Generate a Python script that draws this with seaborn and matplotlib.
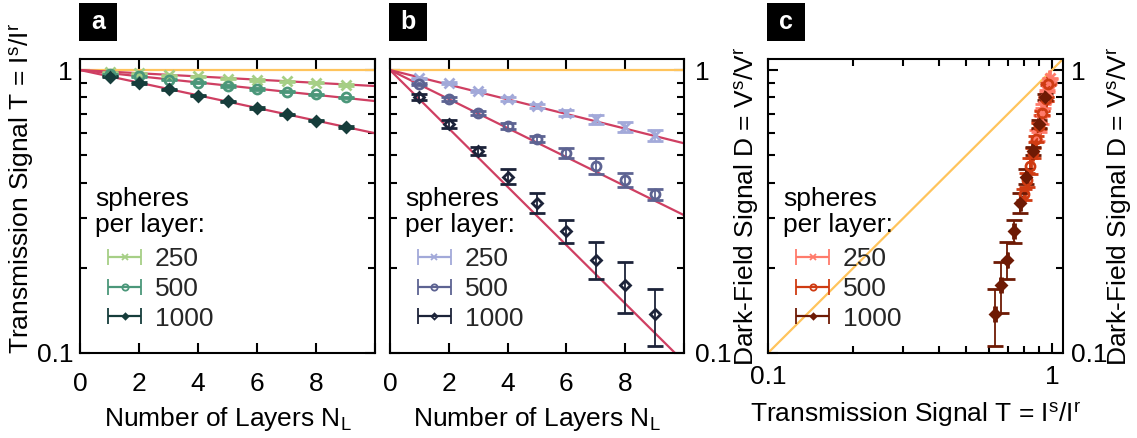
import numpy as np
import matplotlib
matplotlib.use("Agg")
import matplotlib.pyplot as plt
import seaborn as sns
from matplotlib.container import ErrorbarContainer
from matplotlib.legend_handler import HandlerErrorbar
from matplotlib.patches import Rectangle
from matplotlib.ticker import LogLocator, NullFormatter, FixedLocator, FixedFormatter

# ---------------- data ----------------
layers = [1, 2, 3, 4, 5, 6, 7, 8, 9]
spheres = ["250", "500", "1000"]

# transmission signal T (panel a)
T_250 = [0.984, 0.976, 0.958, 0.950, 0.932, 0.922, 0.914, 0.902, 0.885]
T_500 = [0.968, 0.950, 0.925, 0.902, 0.878, 0.857, 0.838, 0.820, 0.800]
T_1000 = [0.947, 0.900, 0.855, 0.812, 0.775, 0.735, 0.697, 0.662, 0.630]
T_err_250 = [0.004, 0.004, 0.004, 0.004, 0.004, 0.004, 0.004, 0.004, 0.004]
T_err_500 = [0.004, 0.004, 0.004, 0.004, 0.004, 0.004, 0.004, 0.004, 0.004]
T_err_1000 = [0.004, 0.004, 0.004, 0.004, 0.004, 0.004, 0.004, 0.004, 0.004]

# dark-field signal D (panel b)
D_250 = [0.935, 0.898, 0.845, 0.790, 0.748, 0.707, 0.671, 0.631, 0.589]
D_500 = [0.892, 0.792, 0.707, 0.634, 0.571, 0.510, 0.459, 0.409, 0.364]
D_1000 = [0.805, 0.644, 0.519, 0.420, 0.340, 0.270, 0.214, 0.174, 0.137]
D_err_250 = [0.006, 0.007, 0.008, 0.010, 0.012, 0.018, 0.024, 0.026, 0.026]
D_err_500 = [0.010, 0.012, 0.012, 0.015, 0.012, 0.020, 0.029, 0.023, 0.017]
D_err_1000 = [0.020, 0.021, 0.017, 0.026, 0.027, 0.025, 0.032, 0.036, 0.031]

# exponential fits: value at N = 0 and N = 10 (straight lines on log axis)
fit_N = [0, 10]
T_fit_end = [0.878, 0.777, 0.598]
D_fit_end = [0.551, 0.307, 0.093]
identity = [0.1, 1.1]

T_vals = [T_250, T_500, T_1000]
T_errs = [T_err_250, T_err_500, T_err_1000]
D_vals = [D_250, D_500, D_1000]
D_errs = [D_err_250, D_err_500, D_err_1000]

# ---------------- style ----------------
sns.set_theme(style="ticks")
plt.rcParams["font.family"] = ["Liberation Sans", "DejaVu Sans"]
plt.rcParams["mathtext.default"] = "regular"
plt.rcParams["axes.linewidth"] = 1.5
FS = 19

pal_a = ["#a6cf86", "#4b977a", "#163d3b"]
pal_b = ["#a2a9d9", "#5d6392", "#1c2339"]
pal_c = ["#ff7b6b", "#cf3b12", "#6e1a04"]
fit_color = "#cf3f62"
orange = "#ffc45c"
markers = ["x", "o", "D"]
msizes = [7, 6.5, 5]

W, H = 1137, 438
fig = plt.figure(figsize=(W / 100, H / 100), dpi=100)


def px_axes(l, r, t, b):
    return fig.add_axes([l / W, (H - b) / H, (r - l) / W, (b - t) / H])


ax_a = px_axes(80, 375, 59, 353)
ax_b = px_axes(390, 684, 59, 353)
ax_c = px_axes(768, 1063, 59, 353)


def style_axes(ax, side, logx=False, ypad=8):
    ax.set_yscale("log")
    ax.set_ylim(0.1, 1.094)
    ax.yaxis.set_major_locator(FixedLocator([0.1, 1]))
    ax.yaxis.set_major_formatter(FixedFormatter(["0.1", "1"]))
    ax.yaxis.set_minor_locator(LogLocator(base=10, subs=np.arange(2, 10)))
    ax.yaxis.set_minor_formatter(NullFormatter())
    if logx:
        ax.set_xscale("log")
        ax.set_xlim(0.1, 1.094)
        ax.xaxis.set_major_locator(FixedLocator([0.1, 1]))
        ax.xaxis.set_major_formatter(FixedFormatter(["0.1", "1"]))
        ax.xaxis.set_minor_locator(LogLocator(base=10, subs=np.arange(2, 10)))
        ax.xaxis.set_minor_formatter(NullFormatter())
    else:
        ax.set_xlim(0, 10)
        ax.xaxis.set_major_locator(FixedLocator([0, 2, 4, 6, 8, 10]))
        ax.xaxis.set_major_formatter(FixedFormatter(["0", "2", "4", "6", "8", ""]))
    ax.tick_params(which="both", direction="in", top=True, bottom=True,
                   left=True, right=True, width=1.5, colors="black",
                   labelsize=FS, labelcolor="black")
    ax.tick_params(which="major", length=7)
    ax.tick_params(which="minor", length=5)
    if side == "left":
        ax.tick_params(axis="y", labelleft=True, labelright=False, pad=5)
    else:
        ax.tick_params(axis="y", labelleft=False, labelright=True, pad=ypad)
    for s in ax.spines.values():
        s.set_color("black")
        s.set_linewidth(1.5)


def add_legend(ax, pal, fills):
    ax.text(0.051, 0.48, "spheres\nper layer:", transform=ax.transAxes,
            ha="left", va="center", fontsize=FS, linespacing=1.1, color="black")
    handles = []
    for i, lab in enumerate(spheres):
        h = ax.errorbar([np.nan], [np.nan], xerr=[[0.1], [0.1]], fmt=markers[i],
                        color=pal[i], ms=msizes[i] - 2,
                        mfc=("none" if i < 2 or not fills else pal[i]),
                        mew=1.3, elinewidth=1.6, capsize=6, capthick=1.6,
                        label=lab)
        handles.append(h)
    ax.legend(handles=handles, labels=spheres, loc="center left",
              bbox_to_anchor=(0.095, 0.218), frameon=False, fontsize=FS,
              handlelength=1.25, handletextpad=0.53, labelspacing=0.22,
              borderpad=0, borderaxespad=0,
              handler_map={ErrorbarContainer: HandlerErrorbar(xerr_size=0.63)})


# ---------------- panel a ----------------
style_axes(ax_a, "left")
sns.lineplot(x=fit_N, y=[1, 1], color=orange, lw=1.6, ax=ax_a, zorder=2)
for i in range(3):
    sns.lineplot(x=fit_N, y=[1, T_fit_end[i]], color=fit_color, lw=1.6, ax=ax_a, zorder=2)
for i in range(3):
    ax_a.errorbar(layers, T_vals[i], yerr=T_errs[i], fmt=markers[i], color=pal_a[i],
                  ms=msizes[i], mew=2, mfc=("none" if i == 1 else pal_a[i]),
                  elinewidth=1.3, capsize=6, capthick=1.3, zorder=3)
ax_a.set_xlabel("Number of Layers N$_{L}$", fontsize=FS, color="black", labelpad=6)
ax_a.set_ylabel("Transmission Signal T = I$^{s}$/I$^{r}$", fontsize=FS, color="black")
ax_a.yaxis.set_label_coords(-0.145, 0.56)
ax_a.tick_params(axis="x", pad=14)
add_legend(ax_a, pal_a, True)

# ---------------- panel b ----------------
style_axes(ax_b, "right")
sns.lineplot(x=fit_N, y=[1, 1], color=orange, lw=1.6, ax=ax_b, zorder=2)
for i in range(3):
    sns.lineplot(x=fit_N, y=[1, D_fit_end[i]], color=fit_color, lw=1.6, ax=ax_b, zorder=2)
for i in range(3):
    ax_b.errorbar(layers, D_vals[i], yerr=D_errs[i], fmt=markers[i], color=pal_b[i],
                  ms=msizes[i], mew=2, mfc="none",
                  elinewidth=1.3, capsize=6, capthick=1.3, zorder=3)
ax_b.set_xlabel("Number of Layers N$_{L}$", fontsize=FS, color="black", labelpad=6)
ax_b.yaxis.set_label_position("right")
ax_b.set_ylabel("Dark-Field Signal D = V$^{s}$/V$^{r}$", fontsize=FS, color="black",
                rotation=90)
ax_b.yaxis.set_label_coords(1.167, 0.5)
ax_b.tick_params(axis="x", pad=14)
add_legend(ax_b, pal_b, False)

# ---------------- panel c ----------------
style_axes(ax_c, "right", logx=True, ypad=6)
sns.lineplot(x=identity, y=identity, color=orange, lw=1.6, ax=ax_c, zorder=2)
for i in range(3):
    ax_c.errorbar(T_vals[i], D_vals[i], xerr=T_errs[i], yerr=D_errs[i], fmt=markers[i],
                  color=pal_c[i], ms=msizes[i], mew=2,
                  mfc=("none" if i == 1 else pal_c[i]),
                  elinewidth=1.3, capsize=6, capthick=1.3, zorder=3)
ax_c.set_xlabel("Transmission Signal T = I$^{s}$/I$^{r}$", fontsize=FS, color="black",
                labelpad=8)
ax_c.yaxis.set_label_position("right")
ax_c.set_ylabel("Dark-Field Signal D = V$^{s}$/V$^{r}$", fontsize=FS, color="black",
                rotation=90)
ax_c.yaxis.set_label_coords(1.145, 0.5)
ax_c.tick_params(axis="x", pad=9)
add_legend(ax_c, pal_c, True)

# ---------------- panel letters ----------------
for letter, x0 in [("a", 79), ("b", 389), ("c", 767)]:
    fig.patches.append(Rectangle((x0 / W, (H - 41) / H), 38 / W, 38 / H,
                                 transform=fig.transFigure, facecolor="black",
                                 edgecolor="none"))
    fig.text((x0 + 19) / W, (H - 22) / H, letter, color="white", fontsize=18,
             fontweight="bold", ha="center", va="center")

fig.savefig("out.png", dpi=100)
